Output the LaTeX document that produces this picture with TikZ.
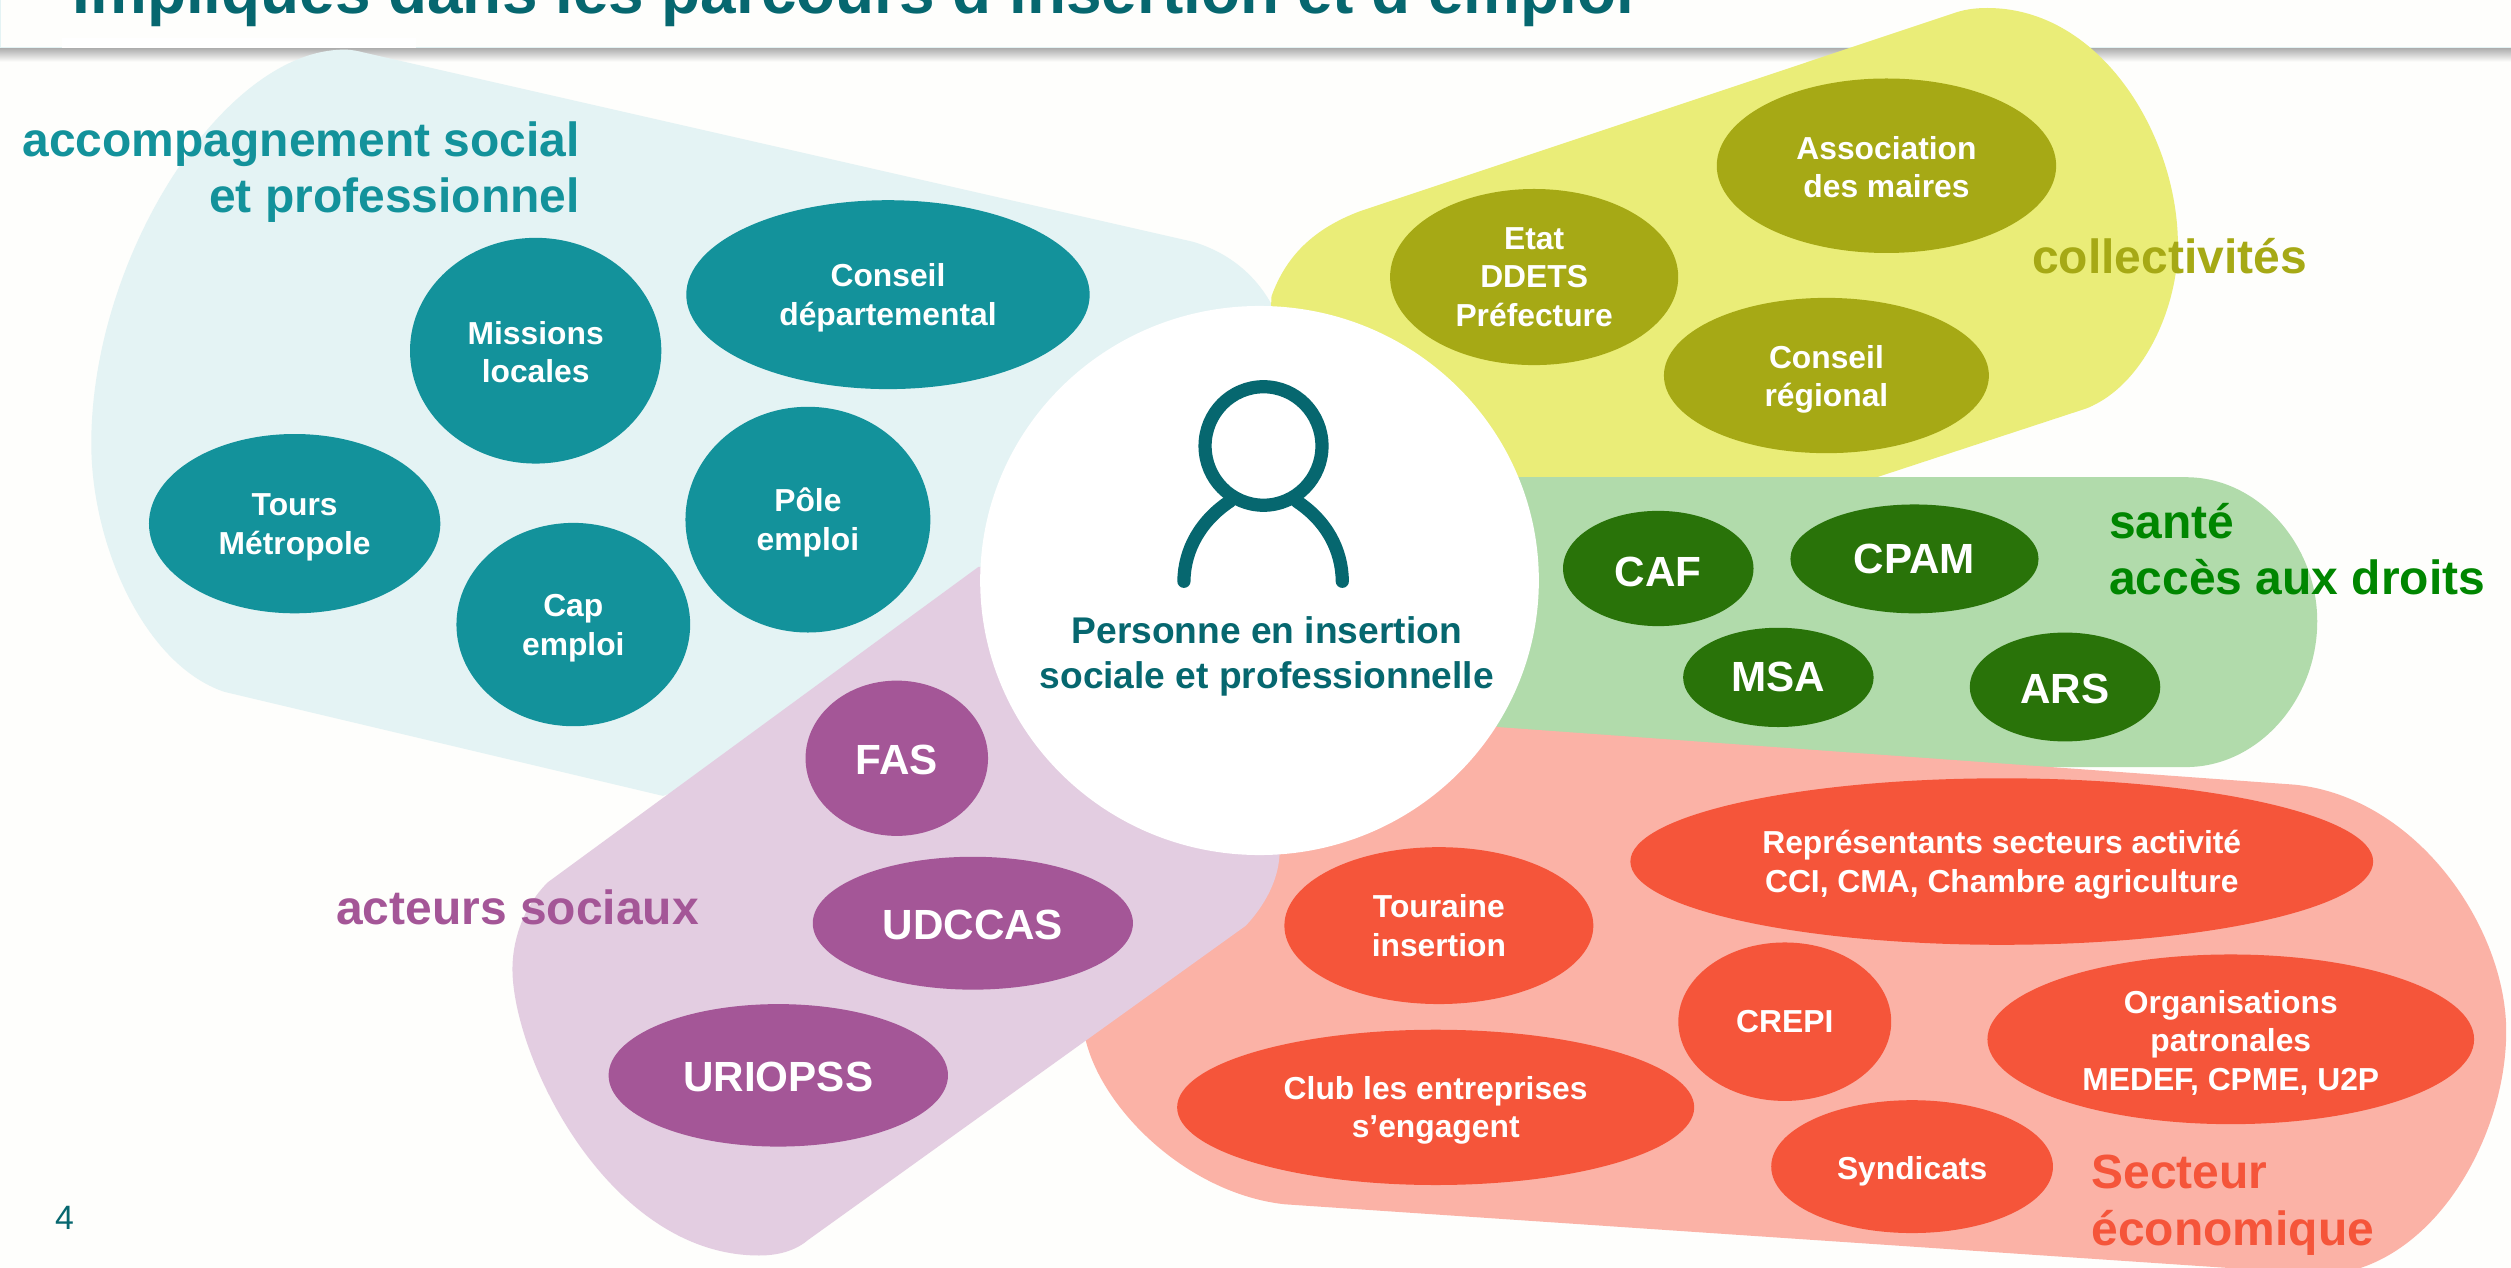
\documentclass[tikz,border=0pt]{standalone}
\usepackage{fontspec}
\setmainfont{Liberation Sans}
\usetikzlibrary{shapes.geometric}
\definecolor{pagebg}{HTML}{FEFEFC}
\definecolor{inktitle}{HTML}{06676F}
\definecolor{tealdark}{HTML}{13929B}
\definecolor{teallight}{HTML}{E4F3F4}
\definecolor{olivedark}{HTML}{A6A915}
\definecolor{olivelight}{HTML}{EAED78}
\definecolor{greendark}{HTML}{297309}
\definecolor{greenlight}{HTML}{B1DBAB}
\definecolor{greenlabel}{HTML}{008600}
\definecolor{reddark}{HTML}{F5553A}
\definecolor{redlight}{HTML}{FBB2A6}
\definecolor{purpledark}{HTML}{A45697}
\definecolor{purplelight}{HTML}{E3CDE1}
\newcommand{\topfix}[1]{\rule{0pt}{\dimexpr 8.2pt+#1pt\relax}}
\tikzset{
  sized/.style 2 args={minimum width=#1*0.04cm,minimum height=#2*0.04cm},
  tshift/.style={execute at begin node={\rule{0pt}{#1}}},
  bubble/.style={ellipse,inner sep=0pt,outer sep=0pt,text=white,align=center,font=\bfseries\fontsize{11.3}{13.66}\selectfont},
  bigbubble/.style={bubble,font=\bfseries\fontsize{15}{17}\selectfont},
  tealb/.style={bubble,fill=tealdark},
  oliveb/.style={bubble,fill=olivedark},
  greenb/.style={bigbubble,fill=greendark},
  purpleb/.style={bigbubble,fill=purpledark,tshift=11.6pt},
  redb/.style={bubble,fill=reddark},
  grouplabel/.style={inner sep=0pt,outer sep=0pt,font=\bfseries\fontsize{17.05}{20}\selectfont},
  iconline/.style={inktitle,line width=4.7pt,line cap=round},
}
\begin{document}
\begin{tikzpicture}[x=0.02cm,y=-0.02cm]
\useasboundingbox (0,0) rectangle (1568,791.8);
\clip (0,0) rectangle (1568,791.8);
\fill[pagebg] (0,0) rectangle (1568,791.8);
% header band
\fill[teallight] (0,0) rectangle (1568,30.6);
\fill[pagebg] (0.8,0) rectangle (1568,29.6);
\fill[white] (38.7,24) rectangle (259.8,30.6);
\shade[top color=black!30,bottom color=pagebg] (0,30.6) rectangle (1568,38.5);
\node[anchor=base west,inner sep=0pt,text=inktitle,font=\bfseries\fontsize{22.7}{26}\selectfont] (title) at (45,8.7) {Impliqués dans les parcours d’insertion et d’emploi};
% blobs
\fill[teallight] (228,33) -- (745,151) .. controls (768,158) and (784,172) .. (794,190) -- (786,362) -- (414,497) -- (140,432) .. controls (90,415) and (57,340) .. (57,277) .. controls (57,160) and (140,31) .. (215,31) .. controls (220,31) and (224,32) .. (228,33) -- cycle;
\fill[olivelight] (1219,8.6) -- (849,132) .. controls (820,143) and (803,160) .. (794,185) -- (786,362) -- (1172,298) -- (1303,255) .. controls (1340,240) and (1360,190) .. (1360,153) .. controls (1360,85) and (1312,5) .. (1241,5) .. controls (1233,5) and (1226,6) .. (1219,8.6) -- cycle;
\fill[greenlight] (900,298) -- (1365,298) .. controls (1410,298) and (1447,340) .. (1447,388) .. controls (1447,437) and (1410,479) .. (1365,479) -- (900,479) -- cycle;
\fill[redlight] (935,454) -- (1433,490) .. controls (1510,498) and (1565,580) .. (1565,644) .. controls (1565,710) and (1520,790) .. (1454,796) -- (802,752) .. controls (740,745) and (685,690) .. (677,645) -- (786,362) -- cycle;
\fill[purplelight] (611,354) -- (342,551) .. controls (325,568) and (320,590) .. (320,605) .. controls (320,660) and (380,784) .. (474,784) .. controls (488,784) and (498,780) .. (505,774) -- (778,578) .. controls (790,565) and (798,550) .. (799,534) -- (786,362) -- cycle;
\node[ellipse,fill=white,inner sep=0pt,sized={174.5}{171.5}] (centre) at (786.5,362.5) {};
% person icon
\draw[iconline] (789,278.5) ellipse [x radius=36.5,y radius=37];
\draw[iconline] (739.3,363) .. controls (739.5,343) and (750,325) .. (768,313);
\draw[iconline] (838.2,363) .. controls (838,343) and (828,325) .. (809.7,313);
\node[inner sep=0pt,align=center,text=inktitle,font=\bfseries\fontsize{13.2}{16}\selectfont] (personne) at (791,410) {Personne en insertion\\sociale et professionnelle};
% teal
\node[tealb,sized={126}{59}] (cd) at (554.5,184) {\topfix{2.3}Conseil\\départemental};
\node[tealb,sized={78.5}{70.5}] (ml) at (334.5,219) {\topfix{1.1}Missions\\locales};
\node[tealb,sized={91}{56}] (tm) at (184,327) {\topfix{2.3}Tours\\Métropole};
\node[tealb,sized={76.5}{70.5}] (pe) at (504.5,324.5) {\topfix{2.3}Pôle\\emploi};
\node[tealb,sized={73}{63.5}] (ce) at (358,390) {\topfix{2.3}Cap\\emploi};
% olive
\node[oliveb,sized={90}{55}] (etat) at (958,173) {Etat\\DDETS\\Préfecture};
\node[oliveb,sized={106}{54.5}] (am) at (1178,103.5) {\topfix{1.1}Association\\des maires};
\node[oliveb,sized={101.5}{48.5}] (cr) at (1140.5,234.5) {\topfix{2.8}Conseil\\régional};
% green
\node[greenb,sized={59.5}{36},tshift=13.2pt] (caf) at (1035.5,355) {CAF};
\node[greenb,sized={77.5}{34}] (cpam) at (1195.5,349) {CPAM};
\node[greenb,sized={59.5}{31}] (msa) at (1110.5,423) {MSA};
\node[greenb,sized={59.5}{34},tshift=12.1pt] (ars) at (1289.5,429) {ARS};
% purple
\node[purpleb,sized={57}{48.5}] (fas) at (560,473.5) {FAS};
\node[purpleb,sized={100}{41.5}] (udccas) at (607.5,576.5) {UDCCAS};
\node[purpleb,sized={106}{44.5}] (uriopss) at (486,671.5) {URIOPSS};
% red
\node[redb,sized={96.5}{49}] (ti) at (898.5,578) {Touraine\\insertion};
\node[redb,sized={232}{52}] (rs) at (1250,538) {\topfix{2.3}Représentants secteurs activité\\CCI, CMA, Chambre agriculture};
\node[redb,sized={66.5}{49.5}] (crepi) at (1114.5,638) {CREPI};
\node[redb,sized={152}{53}] (op) at (1393,649) {\topfix{2.3}Organisations\\patronales\\MEDEF, CPME, U2P};
\node[redb,sized={161.5}{48.5}] (club) at (896.5,691.5) {\topfix{2.3}Club les entreprises\\s’engagent};
\node[redb,sized={88}{41.5},tshift=11.4pt] (synd) at (1194,728.5) {Syndicats};
% group labels
\node[grouplabel,anchor=base east,text=tealdark] (l1) at (362,98) {accompagnement social};
\node[grouplabel,anchor=base east,text=tealdark] (l2) at (362,133) {et professionnel};
\node[grouplabel,anchor=base west,text=olivedark] (l3) at (1269,171) {collectivités};
\node[grouplabel,anchor=base west,text=greenlabel] (l4) at (1317,336) {santé};
\node[grouplabel,anchor=base west,text=greenlabel] (l5) at (1317,371) {accès aux droits};
\node[grouplabel,anchor=base west,text=purpledark] (l6) at (210,577) {acteurs sociaux};
\node[grouplabel,anchor=base west,text=reddark] (l7) at (1306,742) {Secteur};
\node[grouplabel,anchor=base west,text=reddark] (l8) at (1306,778) {économique};
\node[anchor=base west,inner sep=0pt,text=inktitle,font=\fontsize{12}{14}\selectfont] (num) at (34,768) {4};
\end{tikzpicture}
\end{document}
